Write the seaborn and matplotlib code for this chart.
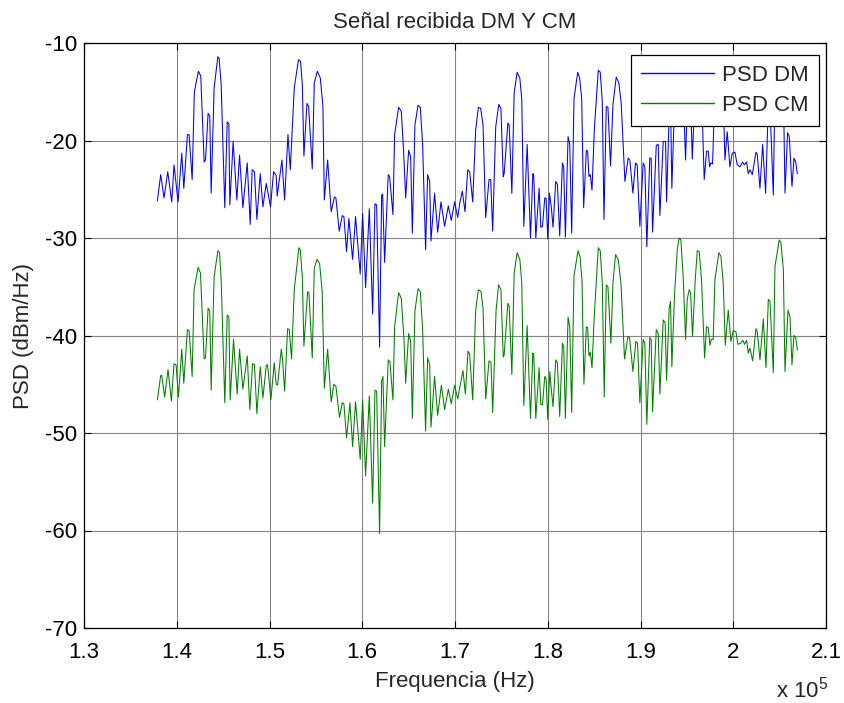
import numpy as np
import pandas as pd
import matplotlib
matplotlib.use("Agg")
import matplotlib.pyplot as plt
from matplotlib.lines import Line2D
import seaborn as sns

# ---------------- data (frequency in units of 1e5 Hz, PSD in dBm/Hz) ----------------
freq_dm_e5 = [
    1.3791, 1.3827, 1.3863, 1.3903, 1.3946, 1.3971, 1.4014, 1.4054, 1.4076, 1.4115,
    1.4133, 1.4166, 1.4190, 1.4234, 1.4259, 1.4295, 1.4310, 1.4338, 1.4356, 1.4371,
    1.4403, 1.4443, 1.4457, 1.4479, 1.4518, 1.4544, 1.4562, 1.4572, 1.4608, 1.4648,
    1.4677, 1.4713, 1.4760, 1.4792, 1.4813, 1.4838, 1.4864, 1.4900, 1.4929, 1.4965,
    1.5011, 1.5044, 1.5072, 1.5083, 1.5134, 1.5163, 1.5199, 1.5224, 1.5267, 1.5313,
    1.5335, 1.5354, 1.5371, 1.5404, 1.5422, 1.5461, 1.5483, 1.5516, 1.5548, 1.5576,
    1.5591, 1.5627, 1.5665, 1.5700, 1.5716, 1.5752, 1.5784, 1.5802, 1.5831, 1.5856,
    1.5896, 1.5928, 1.5978, 1.6004, 1.6036, 1.6076, 1.6112, 1.6137, 1.6155, 1.6187,
    1.6209, 1.6220, 1.6241, 1.6280, 1.6295, 1.6331, 1.6349, 1.6392, 1.6421, 1.6446,
    1.6468, 1.6500, 1.6522, 1.6540, 1.6568, 1.6601, 1.6626, 1.6651, 1.6683, 1.6705,
    1.6727, 1.6741, 1.6780, 1.6813, 1.6849, 1.6888, 1.6928, 1.6960, 1.6996, 1.7029,
    1.7054, 1.7079, 1.7108, 1.7137, 1.7158, 1.7191, 1.7223, 1.7252, 1.7277, 1.7302,
    1.7331, 1.7367, 1.7385, 1.7406, 1.7439, 1.7472, 1.7495, 1.7520, 1.7530, 1.7570,
    1.7584, 1.7613, 1.7638, 1.7670, 1.7699, 1.7720, 1.7742, 1.7778, 1.7814, 1.7839,
    1.7849, 1.7871, 1.7907, 1.7925, 1.7943, 1.7968, 1.7982, 1.8000, 1.8018, 1.8039,
    1.8057, 1.8086, 1.8104, 1.8129, 1.8158, 1.8172, 1.8190, 1.8219, 1.8237, 1.8258,
    1.8283, 1.8323, 1.8344, 1.8366, 1.8387, 1.8416, 1.8430, 1.8444, 1.8459, 1.8477,
    1.8502, 1.8545, 1.8566, 1.8588, 1.8606, 1.8631, 1.8649, 1.8677, 1.8703, 1.8738,
    1.8767, 1.8792, 1.8832, 1.8867, 1.8885, 1.8918, 1.8946, 1.8964, 1.8993, 1.9029,
    1.9047, 1.9068, 1.9100, 1.9115, 1.9130, 1.9170, 1.9191, 1.9209, 1.9245, 1.9270,
    1.9281, 1.9310, 1.9324, 1.9338, 1.9367, 1.9396, 1.9417, 1.9435, 1.9460, 1.9486,
    1.9504, 1.9525, 1.9540, 1.9558, 1.9590, 1.9612, 1.9633, 1.9658, 1.9687, 1.9712,
    1.9730, 1.9745, 1.9759, 1.9777, 1.9802, 1.9845, 1.9867, 1.9892, 1.9910, 1.9935,
    1.9964, 1.9989, 2.0018, 2.0043, 2.0072, 2.0101, 2.0119, 2.0144, 2.0162, 2.0180,
    2.0205, 2.0245, 2.0259, 2.0288, 2.0317, 2.0349, 2.0378, 2.0396, 2.0432, 2.0450,
    2.0496, 2.0514, 2.0540, 2.0558, 2.0586, 2.0604, 2.0633, 2.0655, 2.0673, 2.0691,
]
psd_dm = [
    -26.2, -23.5, -25.9, -23.2, -26.3, -22.5, -26.3, -21.3, -24.9, -19.4,
    -19.4, -24.0, -15.0, -12.9, -13.4, -22.2, -22.0, -17.2, -17.5, -25.4,
    -14.6, -11.4, -11.6, -14.3, -26.9, -18.1, -18.3, -26.6, -20.1, -26.1,
    -21.5, -26.9, -22.3, -28.6, -23.0, -23.2, -28.1, -23.4, -26.8, -24.4,
    -26.8, -23.2, -23.6, -25.7, -22.0, -26.1, -19.4, -23.0, -14.6, -11.7,
    -11.9, -14.3, -21.6, -16.2, -16.5, -22.9, -14.1, -12.9, -13.6, -16.5,
    -26.1, -22.0, -27.3, -25.8, -25.9, -29.3, -27.7, -27.8, -31.4, -28.0,
    -32.2, -27.8, -33.7, -27.5, -35.1, -27.0, -37.8, -26.5, -26.6, -41.2,
    -25.6, -25.5, -32.5, -23.5, -23.7, -27.6, -19.4, -16.6, -17.0, -21.1,
    -25.9, -21.0, -21.7, -29.5, -18.4, -16.4, -16.6, -20.4, -31.2, -23.5,
    -24.2, -30.3, -25.4, -29.4, -26.3, -28.8, -26.7, -28.2, -26.3, -27.9,
    -26.3, -25.2, -27.3, -23.0, -23.2, -26.3, -18.9, -16.6, -16.7, -18.4,
    -27.9, -24.0, -24.0, -29.3, -18.6, -16.3, -16.7, -23.7, -23.4, -18.2,
    -18.4, -25.4, -15.1, -13.0, -13.6, -15.8, -28.8, -20.4, -30.0, -23.4,
    -23.6, -30.0, -24.9, -28.9, -28.8, -25.9, -25.9, -30.1, -25.4, -26.9,
    -28.9, -24.2, -24.5, -29.8, -22.3, -22.7, -29.9, -19.6, -20.4, -29.5,
    -15.7, -13.0, -13.6, -15.7, -26.9, -21.0, -21.1, -23.7, -23.5, -25.1,
    -18.9, -12.8, -13.0, -16.0, -28.1, -16.5, -16.6, -22.6, -16.3, -13.5,
    -14.1, -16.2, -24.2, -21.8, -22.0, -25.4, -22.3, -22.5, -28.8, -22.3,
    -22.7, -30.9, -21.8, -21.8, -29.4, -20.5, -20.4, -27.7, -20.1, -20.1,
    -26.3, -17.0, -16.3, -24.9, -16.2, -12.6, -11.6, -11.8, -15.0, -22.0,
    -16.3, -15.3, -15.6, -21.9, -14.8, -12.8, -12.9, -15.0, -24.0, -21.1,
    -21.1, -22.7, -22.3, -22.4, -14.8, -13.0, -13.3, -15.3, -22.0, -19.1,
    -22.7, -21.3, -21.2, -22.5, -22.7, -22.2, -22.5, -22.2, -23.4, -23.0,
    -23.5, -21.2, -21.4, -24.9, -20.4, -25.4, -16.3, -16.5, -25.6, -14.0,
    -11.8, -12.1, -14.5, -25.4, -19.2, -19.6, -24.7, -21.8, -22.2, -23.4,
]

freq_cm_e5 = [
    1.3791, 1.3827, 1.3838, 1.3870, 1.3906, 1.3942, 1.3971, 1.3993, 1.4018, 1.4054,
    1.4076, 1.4115, 1.4133, 1.4166, 1.4187, 1.4230, 1.4256, 1.4295, 1.4310, 1.4338,
    1.4356, 1.4371, 1.4403, 1.4443, 1.4461, 1.4479, 1.4518, 1.4544, 1.4562, 1.4576,
    1.4612, 1.4652, 1.4677, 1.4713, 1.4760, 1.4788, 1.4817, 1.4838, 1.4864, 1.4900,
    1.4929, 1.4965, 1.4979, 1.5015, 1.5051, 1.5072, 1.5087, 1.5127, 1.5141, 1.5163,
    1.5195, 1.5213, 1.5238, 1.5267, 1.5317, 1.5332, 1.5354, 1.5371, 1.5411, 1.5425,
    1.5461, 1.5483, 1.5512, 1.5540, 1.5568, 1.5591, 1.5627, 1.5665, 1.5694, 1.5716,
    1.5755, 1.5784, 1.5802, 1.5831, 1.5867, 1.5896, 1.5928, 1.5978, 1.6004, 1.6036,
    1.6076, 1.6112, 1.6137, 1.6155, 1.6187, 1.6209, 1.6223, 1.6241, 1.6280, 1.6298,
    1.6331, 1.6349, 1.6392, 1.6421, 1.6450, 1.6468, 1.6500, 1.6522, 1.6540, 1.6568,
    1.6601, 1.6626, 1.6651, 1.6683, 1.6705, 1.6727, 1.6741, 1.6780, 1.6813, 1.6853,
    1.6888, 1.6928, 1.6960, 1.6996, 1.7029, 1.7054, 1.7086, 1.7112, 1.7140, 1.7158,
    1.7191, 1.7223, 1.7252, 1.7281, 1.7302, 1.7331, 1.7367, 1.7388, 1.7406, 1.7443,
    1.7470, 1.7495, 1.7520, 1.7530, 1.7570, 1.7584, 1.7613, 1.7638, 1.7670, 1.7699,
    1.7720, 1.7742, 1.7778, 1.7814, 1.7839, 1.7849, 1.7871, 1.7907, 1.7925, 1.7943,
    1.7968, 1.7982, 1.8000, 1.8022, 1.8039, 1.8057, 1.8086, 1.8104, 1.8129, 1.8158,
    1.8172, 1.8190, 1.8219, 1.8237, 1.8258, 1.8283, 1.8326, 1.8348, 1.8369, 1.8390,
    1.8416, 1.8430, 1.8444, 1.8459, 1.8477, 1.8502, 1.8545, 1.8566, 1.8588, 1.8609,
    1.8631, 1.8649, 1.8681, 1.8703, 1.8731, 1.8760, 1.8789, 1.8828, 1.8864, 1.8882,
    1.8918, 1.8950, 1.8968, 1.8993, 1.9029, 1.9047, 1.9068, 1.9100, 1.9115, 1.9130,
    1.9170, 1.9191, 1.9209, 1.9245, 1.9266, 1.9281, 1.9309, 1.9324, 1.9338, 1.9367,
    1.9396, 1.9417, 1.9435, 1.9460, 1.9486, 1.9504, 1.9525, 1.9540, 1.9561, 1.9590,
    1.9612, 1.9633, 1.9658, 1.9691, 1.9712, 1.9730, 1.9748, 1.9763, 1.9784, 1.9802,
    1.9845, 1.9867, 1.9892, 1.9914, 1.9946, 1.9975, 2.0000, 2.0029, 2.0050, 2.0079,
    2.0104, 2.0122, 2.0144, 2.0162, 2.0180, 2.0209, 2.0245, 2.0259, 2.0288, 2.0324,
    2.0353, 2.0378, 2.0396, 2.0432, 2.0450, 2.0496, 2.0514, 2.0540, 2.0558, 2.0590,
    2.0612, 2.0633, 2.0655, 2.0673, 2.0691,
]
psd_cm = [
    -46.6, -44.1, -44.1, -46.3, -43.5, -46.7, -42.9, -43.0, -46.3, -41.4,
    -44.9, -39.4, -39.5, -44.2, -35.3, -33.0, -33.6, -42.4, -42.3, -37.2,
    -37.5, -45.6, -34.0, -31.3, -31.5, -34.3, -46.9, -37.9, -38.1, -46.6,
    -40.4, -46.0, -41.4, -45.5, -42.1, -47.6, -42.9, -43.0, -48.0, -43.2,
    -46.4, -43.1, -43.0, -46.6, -42.8, -45.0, -45.1, -41.4, -42.5, -45.7,
    -39.3, -39.4, -42.4, -35.3, -31.0, -31.2, -34.0, -41.1, -35.5, -35.6,
    -42.3, -33.1, -32.2, -32.6, -35.5, -45.4, -41.4, -46.8, -45.0, -45.2,
    -48.4, -46.9, -47.0, -50.5, -46.9, -51.4, -46.8, -52.7, -46.6, -54.4,
    -46.2, -57.2, -45.6, -45.7, -60.3, -44.7, -44.2, -51.4, -42.5, -42.7,
    -46.6, -39.1, -35.6, -36.2, -40.4, -44.9, -39.8, -40.6, -48.5, -37.5,
    -35.2, -35.5, -39.4, -49.8, -42.3, -43.0, -49.4, -44.2, -48.2, -45.1,
    -47.6, -45.5, -47.0, -45.1, -46.5, -45.2, -43.6, -46.0, -41.6, -41.9,
    -46.6, -37.4, -35.3, -35.5, -37.2, -46.5, -42.6, -42.8, -47.9, -37.4,
    -34.8, -35.3, -42.2, -42.0, -36.7, -37.0, -44.0, -33.6, -31.5, -32.2,
    -34.6, -47.2, -39.0, -48.5, -41.8, -42.0, -48.5, -43.3, -47.1, -47.1,
    -44.2, -44.4, -48.6, -43.7, -45.6, -47.3, -42.5, -42.8, -48.3, -40.8,
    -41.1, -48.5, -38.1, -39.1, -47.9, -33.9, -31.3, -31.9, -34.3, -45.0,
    -39.1, -39.2, -42.1, -41.7, -43.3, -37.9, -31.0, -31.3, -34.6, -46.3,
    -34.8, -35.0, -40.8, -34.6, -31.7, -32.2, -34.6, -42.4, -40.1, -40.2,
    -43.7, -40.6, -40.8, -46.9, -40.4, -40.8, -49.1, -40.2, -40.4, -47.8,
    -39.4, -39.8, -46.0, -38.4, -38.7, -44.6, -37.2, -36.5, -43.2, -35.8,
    -31.2, -30.0, -30.2, -33.9, -40.4, -36.3, -35.3, -35.6, -40.1, -34.3,
    -31.3, -31.4, -34.3, -42.3, -39.1, -39.2, -41.0, -40.4, -40.4, -34.3,
    -31.5, -31.9, -34.6, -41.0, -37.4, -40.6, -39.5, -39.6, -40.9, -40.8,
    -40.5, -40.9, -40.5, -41.8, -41.3, -42.6, -39.3, -39.6, -42.5, -38.3,
    -43.3, -36.3, -36.5, -43.8, -32.9, -30.2, -30.5, -33.2, -43.7, -37.4,
    -38.1, -43.0, -40.0, -40.2, -41.5,
]

series_labels = ["PSD DM", "PSD CM"]
series_colors = ["#0000ff", "#008000"]
x_ticks_e5 = [1.3, 1.4, 1.5, 1.6, 1.7, 1.8, 1.9, 2.0, 2.1]
y_ticks = [-70, -60, -50, -40, -30, -20, -10]

# ---------------- style ----------------
sns.set_theme(style="white")
plt.rcParams["font.family"] = ["Liberation Sans", "DejaVu Sans"]
plt.rcParams["mathtext.fontset"] = "custom"
plt.rcParams["mathtext.rm"] = "Liberation Sans"
plt.rcParams["mathtext.it"] = "Liberation Sans"

FS = 16
LW = 0.75

df_dm = pd.DataFrame({"freq": np.array(freq_dm_e5) * 1e5, "psd": psd_dm})
df_cm = pd.DataFrame({"freq": np.array(freq_cm_e5) * 1e5, "psd": psd_cm})

fig = plt.figure(figsize=(8.44, 7.03), dpi=100)
ax = fig.add_axes([84 / 844, 1 - 628 / 703, (826 - 84) / 844, (628 - 43) / 703])

sns.lineplot(data=df_dm, x="freq", y="psd", color=series_colors[0], linewidth=LW,
             estimator=None, sort=False, ax=ax, legend=False)
sns.lineplot(data=df_cm, x="freq", y="psd", color=series_colors[1], linewidth=LW,
             estimator=None, sort=False, ax=ax, legend=False)

ax.set_xlim(x_ticks_e5[0] * 1e5, x_ticks_e5[-1] * 1e5)
ax.set_ylim(y_ticks[0], y_ticks[-1])
ax.set_xticks([t * 1e5 for t in x_ticks_e5])
ax.set_xticklabels([f"{t:g}" for t in x_ticks_e5])
ax.set_yticks(y_ticks)
ax.set_yticklabels([f"{t:g}" for t in y_ticks])

ax.grid(True, color="#858585", linewidth=0.8, linestyle="-")
ax.set_axisbelow(True)
for s in ax.spines.values():
    s.set_color("black")
    s.set_linewidth(0.9)
    s.set_visible(True)
ax.tick_params(direction="in", length=5, width=0.8, colors="black",
               top=True, right=True, bottom=True, left=True,
               labelsize=FS)
ax.tick_params(axis="x", pad=10)
ax.tick_params(axis="y", pad=5)

ax.set_title("Señal recibida DM Y CM", fontsize=FS, pad=11)
ax.set_xlabel("Frequencia (Hz)", fontsize=FS, labelpad=6)
ax.set_ylabel("PSD (dBm/Hz)", fontsize=FS, labelpad=8)

fig.text(776 / 844, 1 - 690 / 703, r"x 10$^{5}$", fontsize=FS, ha="left", va="center")

handles = [Line2D([0], [0], color=c, linewidth=1.0, linestyle="-") for c in series_colors]
leg = ax.legend(handles, series_labels, loc="upper right", fontsize=FS, frameon=True,
                fancybox=False, edgecolor="black", framealpha=1, handlelength=3.3,
                borderpad=0.45, labelspacing=0.4, handletextpad=0.35,
                borderaxespad=0, bbox_to_anchor=(1 - 7 / 742, 1 - 12 / 585))
leg.get_frame().set_linewidth(0.9)
for line, c in zip(leg.get_lines(), series_colors):
    line.set_color(c)

fig.savefig("out.png", dpi=100, facecolor="white")
